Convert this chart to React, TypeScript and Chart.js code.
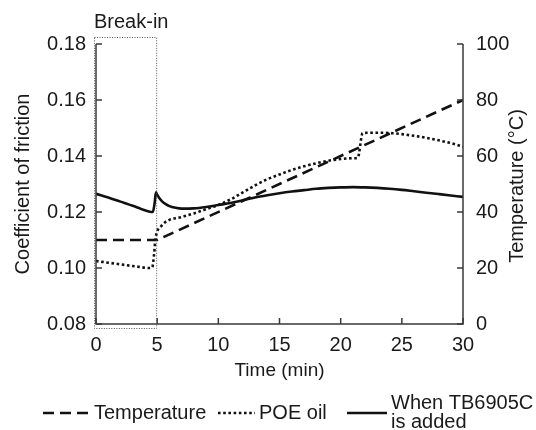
import React, { useEffect, useRef } from "react";
import { Chart, registerables } from "chart.js";

Chart.register(...registerables);

const FONT = "'Liberation Sans', Arial, Helvetica, sans-serif";
const INK = "#1a1a1a";
const AXIS = "#3a3a3a";

// ---- data ----
const tempTime = [0, 5, 30];
const tempC = [30, 30, 80];

const poeTime = [0, 0.5, 1, 2, 3, 3.5, 4, 4.4, 4.6, 4.75, 4.85, 5.0, 5.3, 5.6, 6, 6.5, 7, 8, 9, 10, 11, 12, 13, 14, 15, 16, 17, 18, 19, 20, 21, 21.4, 21.8, 22.4, 23, 24, 25, 26, 27, 28, 29, 30];
const poeCof = [0.1025, 0.1022, 0.1019, 0.1013, 0.1007, 0.1004, 0.1001, 0.1, 0.1003, 0.105, 0.11, 0.113, 0.1148, 0.1162, 0.1172, 0.1178, 0.1182, 0.1195, 0.121, 0.1225, 0.1245, 0.127, 0.1295, 0.1317, 0.1334, 0.135, 0.1363, 0.1374, 0.1383, 0.1389, 0.1392, 0.1394, 0.1482, 0.1483, 0.1483, 0.1482, 0.1478, 0.1472, 0.1465, 0.1456, 0.1446, 0.1433];

const tbTime = [0, 1, 2, 3, 3.5, 4, 4.4, 4.65, 4.8, 4.9, 5.0, 5.2, 5.4, 5.7, 6, 6.5, 7, 8, 9, 10, 11, 12, 13, 14, 15, 16, 17, 18, 19, 20, 21, 22, 23, 24, 25, 26, 27, 28, 29, 30];
const tbCof = [0.1265, 0.1252, 0.1237, 0.1222, 0.1214, 0.1206, 0.1201, 0.12, 0.1235, 0.127, 0.1262, 0.1248, 0.1238, 0.1228, 0.1221, 0.1215, 0.1212, 0.1213, 0.1218, 0.1225, 0.1232, 0.1242, 0.1252, 0.126, 0.1267, 0.1273, 0.1278, 0.1283, 0.1286, 0.1288, 0.1289, 0.1288, 0.1286, 0.1283, 0.1279, 0.1274, 0.1269, 0.1264, 0.1259, 0.1254];

const xTickValues = [0, 5, 10, 15, 20, 25, 30];
const yTickValues = [0.08, 0.1, 0.12, 0.14, 0.16, 0.18];
const y2TickValues = [0, 20, 40, 60, 80, 100];
const breakIn = [0, 5];

const labels = {
  temp: "Temperature",
  poe: "POE oil",
  tb: ["When TB6905C", "is added"],
  x: "Time (min)",
  y: "Coefficient of friction",
  y2: "Temperature (°C)",
  box: "Break-in",
};

const pts = (xs: number[], ys: number[]) => xs.map((x, i) => ({ x, y: ys[i] }));

const decorPlugin = {
  id: "decor",
  afterDraw(chart: any) {
    const { ctx, chartArea: ca, scales } = chart;
    const xs = scales.x, ys = scales.y, y2s = scales.y2;
    ctx.save();
    // axis lines
    ctx.strokeStyle = AXIS;
    ctx.lineWidth = 1.5;
    ctx.setLineDash([]);
    ctx.beginPath();
    ctx.moveTo(ca.left, ca.top);
    ctx.lineTo(ca.left, ca.bottom);
    ctx.lineTo(ca.right, ca.bottom);
    ctx.lineTo(ca.right, ca.top);
    ctx.stroke();
    // inward ticks
    const tl = 6;
    ctx.beginPath();
    yTickValues.forEach((v) => {
      const p = ys.getPixelForValue(v);
      ctx.moveTo(ca.left, p);
      ctx.lineTo(ca.left + tl, p);
    });
    y2TickValues.forEach((v) => {
      const p = y2s.getPixelForValue(v);
      ctx.moveTo(ca.right, p);
      ctx.lineTo(ca.right - tl, p);
    });
    xTickValues.forEach((v) => {
      const p = xs.getPixelForValue(v);
      ctx.moveTo(p, ca.bottom);
      ctx.lineTo(p, ca.bottom - tl);
    });
    ctx.stroke();

    // break-in box
    const bx0 = xs.getPixelForValue(breakIn[0]) - 2;
    const bx1 = xs.getPixelForValue(breakIn[1]) - 1;
    const by0 = ca.top - 7;
    const by1 = ca.bottom + 4;
    ctx.strokeStyle = "#555";
    ctx.lineWidth = 1;
    ctx.setLineDash([1, 1.5]);
    ctx.strokeRect(bx0 + 0.5, by0 + 0.5, bx1 - bx0, by1 - by0);
    ctx.setLineDash([]);
    ctx.fillStyle = INK;
    ctx.font = `20px ${FONT}`;
    ctx.textAlign = "left";
    ctx.textBaseline = "middle";
    ctx.fillText(labels.box, bx0, 22);

    // right axis title (reads bottom to top)
    ctx.save();
    ctx.translate(517, (ca.top + ca.bottom) / 2 + 2);
    ctx.rotate(-Math.PI / 2);
    ctx.textAlign = "center";
    ctx.textBaseline = "middle";
    ctx.font = `20px ${FONT}`;
    ctx.fillText(labels.y2, 0, 0);
    ctx.restore();

    // legend
    const ly = 413;
    const ds = chart.data.datasets;
    const items = [
      { x0: 43, x1: 90, ds: ds[0], text: [labels.temp] },
      { x0: 218, x1: 255, ds: ds[1], text: [labels.poe] },
      { x0: 347, x1: 387, ds: ds[2], text: labels.tb },
    ];
    items.forEach((it) => {
      ctx.strokeStyle = it.ds.borderColor;
      ctx.lineWidth = it.ds.borderWidth;
      ctx.setLineDash(it.ds.borderDash || []);
      ctx.beginPath();
      ctx.moveTo(it.x0, ly);
      ctx.lineTo(it.x1, ly);
      ctx.stroke();
      ctx.setLineDash([]);
      ctx.fillStyle = INK;
      ctx.font = `20px ${FONT}`;
      ctx.textAlign = "left";
      ctx.textBaseline = "middle";
      const n = it.text.length;
      it.text.forEach((t, i) => {
        ctx.fillText(t, it.x1 + 4, ly + (i - (n - 1) / 2) * 19);
      });
    });
    ctx.restore();
  },
};

export default function App() {
  const ref = useRef<HTMLCanvasElement>(null);
  useEffect(() => {
    if (!ref.current) return;
    const tickFont = { family: FONT, size: 20 };
    const chart = new Chart(ref.current, {
      type: "line",
      data: {
        datasets: [
          {
            label: labels.temp,
            data: pts(tempTime, tempC),
            yAxisID: "y2",
            borderColor: "#111",
            borderWidth: 2.6,
            borderDash: [11, 6],
            pointRadius: 0,
            tension: 0,
          },
          {
            label: labels.poe,
            data: pts(poeTime, poeCof),
            yAxisID: "y",
            borderColor: "#111",
            borderWidth: 2.6,
            borderDash: [2.6, 2.6],
            pointRadius: 0,
            cubicInterpolationMode: "monotone",
          },
          {
            label: labels.tb.join(" "),
            data: pts(tbTime, tbCof),
            yAxisID: "y",
            borderColor: "#111",
            borderWidth: 2.6,
            pointRadius: 0,
            cubicInterpolationMode: "monotone",
          },
        ],
      },
      options: {
        animation: false,
        responsive: false,
        layout: { padding: { top: 44, bottom: 45, left: 0, right: 0 } },
        plugins: { legend: { display: false }, tooltip: { enabled: false } },
        scales: {
          x: {
            type: "linear",
            min: 0,
            max: 30,
            grid: { display: false, drawTicks: false },
            border: { display: false },
            afterBuildTicks: (s: any) => { s.ticks = xTickValues.map((v) => ({ value: v })); },
            afterFit: (s: any) => { s.height = 61; },
            ticks: { font: tickFont, color: INK, padding: 9, maxRotation: 0, autoSkip: false },
            title: { display: true, text: labels.x, font: { family: FONT, size: 19 }, color: INK, padding: { top: 0, bottom: 3 } },
          },
          y: {
            type: "linear",
            position: "left",
            min: 0.08,
            max: 0.18,
            grid: { display: false, drawTicks: false },
            border: { display: false },
            afterBuildTicks: (s: any) => { s.ticks = yTickValues.map((v) => ({ value: v })); },
            afterFit: (s: any) => { s.width = 96; },
            ticks: { font: tickFont, color: INK, padding: 10, callback: (v: any) => Number(v).toFixed(2) },
            title: { display: true, text: labels.y, font: { family: FONT, size: 20 }, color: INK, padding: { top: 11, bottom: 0 } },
          },
          y2: {
            type: "linear",
            position: "right",
            min: 0,
            max: 100,
            grid: { display: false, drawTicks: false },
            border: { display: false },
            afterBuildTicks: (s: any) => { s.ticks = y2TickValues.map((v) => ({ value: v })); },
            afterFit: (s: any) => { s.width = 73; },
            ticks: { font: tickFont, color: INK, padding: 13 },
          },
        },
      } as any,
      plugins: [decorPlugin],
    });
    return () => chart.destroy();
  }, []);
  return (
    <div style={{ position: "absolute", left: 0, top: 0, width: 536, height: 430, background: "#fff" }}>
      <canvas ref={ref} width={536} height={430} style={{ display: "block" }} />
    </div>
  );
}
